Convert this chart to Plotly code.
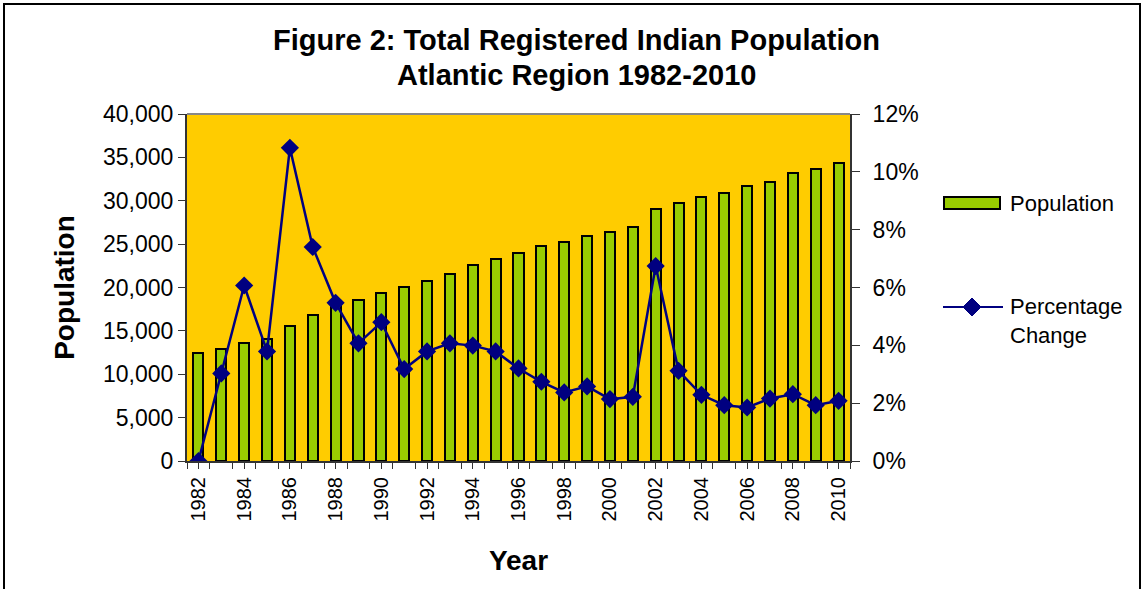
import plotly.graph_objects as go

years = list(range(1982, 2011))
population = [12400, 12950, 13600, 14100, 15600, 16800, 18200, 18550, 19350, 20050,
              20800, 21550, 22550, 23250, 24000, 24750, 25250, 25950, 26450, 27000,
              29000, 29700, 30450, 30900, 31700, 32200, 33150, 33650, 34400]
pct_change = [0.0, 3.03, 6.07, 3.79, 10.83, 7.40, 5.47, 4.07, 4.80, 3.18,
              3.79, 4.07, 3.99, 3.79, 3.20, 2.74, 2.37, 2.58, 2.14, 2.22,
              6.74, 3.12, 2.29, 1.93, 1.85, 2.16, 2.31, 1.93, 2.08]
pct_change = [p / 100 for p in pct_change]

font_name = 'Liberation Sans, Arial, sans-serif'
bar_green = '#99CC00'
navy = '#000080'

# plot area in page pixels (left, right, top, bottom)
L, R, T, B = 187, 850, 114, 461
W, H = 1146, 589


def px(x):
    return (x - L) / (R - L)


def py(y):
    return (B - y) / (B - T)


fig = go.Figure()

fig.add_trace(go.Bar(
    x=years, y=population, name='Population',
    marker=dict(color=bar_green, line=dict(color='black', width=2)),
    width=0.44, showlegend=False
))

fig.add_trace(go.Scatter(
    x=years, y=pct_change, name='Percentage Change', yaxis='y2',
    mode='lines+markers',
    line=dict(color=navy, width=2.5),
    marker=dict(symbol='diamond', size=14, color=navy),
    showlegend=False
))

# hand-drawn legend, like the Excel one
dx, dy = 9 / (R - L), 9 / (B - T)
cx, cy = px(972), py(307)
diamond = f'M {cx - dx} {cy} L {cx} {cy + dy} L {cx + dx} {cy} L {cx} {cy - dy} Z'

shapes = [
    # grey top edge of plot area
    dict(type='line', xref='paper', yref='paper', x0=0, x1=1, y0=1, y1=1,
         line=dict(color='#888', width=2)),
    # chart frame
    dict(type='rect', xref='paper', yref='paper',
         x0=px(4), x1=px(1140), y0=py(640), y1=py(4),
         line=dict(color='black', width=2), layer='below'),
    dict(type='rect', xref='paper', yref='paper',
         x0=px(944), x1=px(1000), y0=py(209), y1=py(197),
         fillcolor=bar_green, line=dict(color='black', width=2)),
    dict(type='line', xref='paper', yref='paper',
         x0=px(943), x1=px(1003), y0=py(307), y1=py(307),
         line=dict(color=navy, width=2)),
    dict(type='path', xref='paper', yref='paper', path=diamond,
         fillcolor=navy, line=dict(color=navy, width=1)),
]

annotations = [
    dict(text='<b>Figure 2: Total Registered Indian Population</b>', xref='paper', yref='paper',
         x=px(576), y=py(40), xanchor='center', yanchor='middle', showarrow=False,
         font=dict(size=29)),
    dict(text='<b>Atlantic Region 1982-2010</b>', xref='paper', yref='paper',
         x=px(576), y=py(75), xanchor='center', yanchor='middle', showarrow=False,
         font=dict(size=29)),
    dict(text='Population', xref='paper', yref='paper',
         x=px(1008), y=py(203), xanchor='left', yanchor='middle', showarrow=False,
         font=dict(size=22)),
    dict(text='Percentage<br>Change', xref='paper', yref='paper', align='left',
         x=px(1008), y=py(292), xanchor='left', yanchor='top', showarrow=False,
         font=dict(size=22)),
]

fig.update_layout(
    width=W, height=H,
    margin=dict(l=L, r=W - R, t=T, b=H - B),
    paper_bgcolor='white', plot_bgcolor='#FFCC00',
    font=dict(family=font_name, size=22, color='black'),
    bargap=0,
    xaxis=dict(
        range=[1981.5, 2010.5], tickmode='array', tickvals=years[::2],
        ticktext=[str(y) for y in years[::2]], tickangle=-90,
        ticks='outside', ticklen=6, tickcolor='#333', showgrid=False,
        showline=True, linecolor='#333', linewidth=2, zeroline=False,
        minor=dict(tickmode='linear', tick0=1981.5, dtick=1, ticks='outside',
                   ticklen=6, tickcolor='#333'),
        tickfont=dict(size=20),
        title=dict(text='<b>Year</b>', font=dict(size=28), standoff=30),
    ),
    yaxis=dict(
        range=[0, 40000], dtick=5000, tickformat=',', showgrid=False,
        ticks='outside', ticklen=7, tickcolor='#333',
        showline=True, linecolor='#333', linewidth=2, zeroline=False,
        tickfont=dict(size=23),
        title=dict(text='<b>Population</b>', font=dict(size=28), standoff=20),
    ),
    yaxis2=dict(
        range=[0, 0.12], dtick=0.02, tickformat='.0%', overlaying='y', side='right',
        showgrid=False, ticks='outside', ticklen=8, tickcolor='#333',
        showline=True, linecolor='#333', linewidth=2, zeroline=False,
        tickfont=dict(size=23), ticklabelstandoff=8,
    ),
    shapes=shapes,
    annotations=annotations,
)

fig.write_html("out.html", config={'displayModeBar': False},
               post_script="document.body.style.margin='0';")
